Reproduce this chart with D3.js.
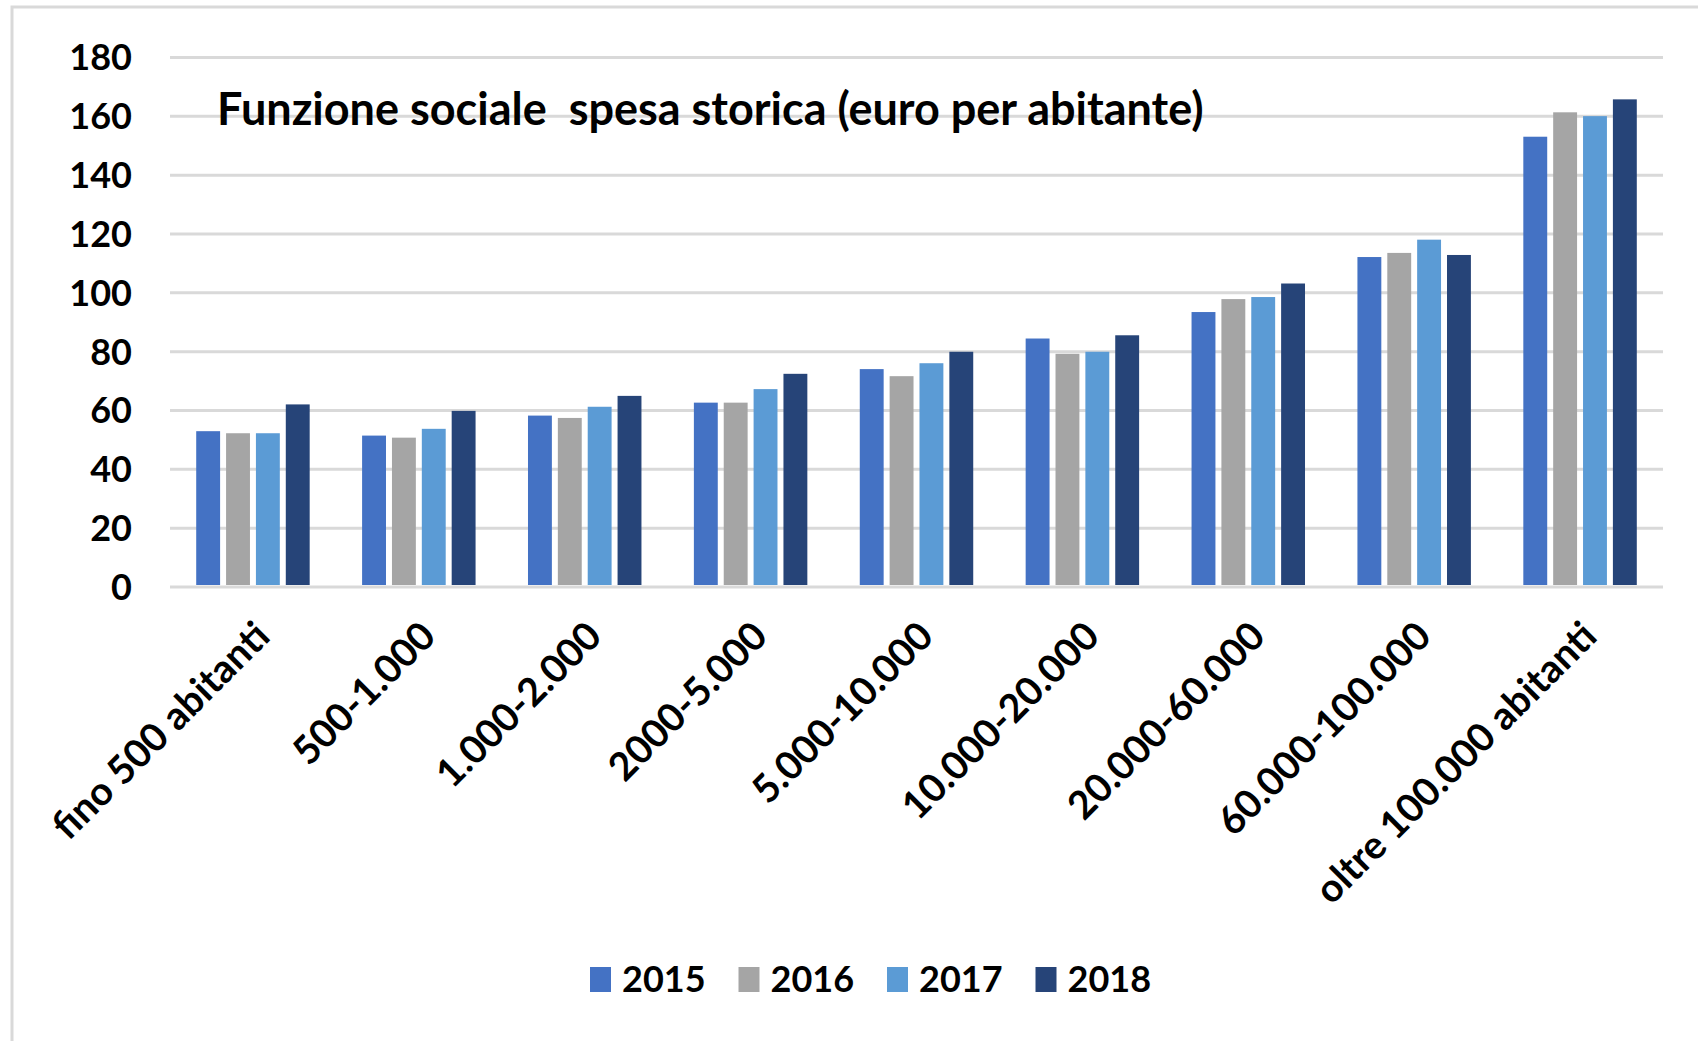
<!DOCTYPE html>
<html>
<head>
<meta charset="utf-8">
<script src="https://cdn.jsdelivr.net/npm/d3@7"></script>
<style>
  html, body { margin: 0; padding: 0; background: #fff; }
  svg text { font-family: Lato, "Open Sans", sans-serif; font-weight: bold; fill: #000; }
</style>
</head>
<body>
<div id="chart"></div>
<script>
// fasce di popolazione
const categories = ["fino 500 abitanti", "500-1.000", "1.000-2.000", "2000-5.000", "5.000-10.000",
  "10.000-20.000", "20.000-60.000", "60.000-100.000", "oltre 100.000 abitanti"];
const years = ["2015", "2016", "2017", "2018"];
const values2015 = [52.8, 51.3, 58.1, 62.5, 73.9, 84.3, 93.3, 112.0, 152.9];
const values2016 = [52.1, 50.6, 57.3, 62.5, 71.5, 79.1, 97.7, 113.4, 161.2];
const values2017 = [52.1, 53.6, 61.1, 67.1, 75.9, 79.8, 98.4, 117.9, 159.9];
const values2018 = [61.9, 59.7, 64.8, 72.3, 79.8, 85.4, 103.0, 112.7, 165.6];
const yTicks = [0, 20, 40, 60, 80, 100, 120, 140, 160, 180];
const colors = ["#4472C4", "#A5A5A5", "#5B9BD5", "#264478"];
const title = "Funzione sociale  spesa storica (euro per abitante)";

const series = [values2015, values2016, values2017, values2018];
const data = categories.map((c, i) => ({ cat: c, vals: years.map((y, j) => ({ year: y, v: series[j][i] })) }));

const width = 1698, height = 1041;
const plotLeft = 170, plotRight = 1663, plotTop = 57, plotBottom = 586.5;

const svg = d3.select("#chart").append("svg")
  .attr("width", width)
  .attr("height", height);

svg.append("rect")
  .attr("x", 12).attr("y", 7)
  .attr("width", 1720).attr("height", 1100)
  .attr("fill", "#fff")
  .attr("stroke", "#d9d9d9")
  .attr("stroke-width", 3);

const y = d3.scaleLinear().domain([0, 180]).range([plotBottom, plotTop]);
const x0 = d3.scaleBand().domain(categories).range([plotLeft, plotRight])
  .paddingInner(0.28).paddingOuter(0.14);
const x1 = d3.scaleBand().domain(years).range([0, x0.bandwidth()])
  .paddingInner(0.2).paddingOuter(0.1);
const color = d3.scaleOrdinal().domain(years).range(colors);

// griglia + etichette asse y
const yAxis = svg.append("g")
  .attr("transform", `translate(${plotLeft},0)`)
  .call(d3.axisLeft(y).tickValues(yTicks).tickSize(-(plotRight - plotLeft)).tickPadding(38));
yAxis.select(".domain").remove();
yAxis.selectAll(".tick line").attr("stroke", "#d9d9d9").attr("stroke-width", 3);
yAxis.selectAll(".tick text")
  .attr("font-size", "36px")
  .attr("dy", "0.36em");

// barre
const groups = svg.selectAll(".grp")
  .data(data)
  .enter().append("g")
  .attr("class", "grp")
  .attr("transform", d => `translate(${x0(d.cat)},0)`);

groups.selectAll("rect")
  .data(d => d.vals)
  .enter().append("rect")
  .attr("x", d => x1(d.year))
  .attr("y", d => y(d.v))
  .attr("width", x1.bandwidth())
  .attr("height", d => y(0) - y(d.v) - 1.5)
  .attr("fill", d => color(d.year));

// asse x con etichette ruotate
const xAxis = svg.append("g")
  .attr("transform", `translate(0,${plotBottom})`)
  .call(d3.axisBottom(x0).tickSize(0).tickPadding(0));
xAxis.select(".domain").remove();
xAxis.selectAll(".tick text")
  .attr("font-size", "39px")
  .attr("text-anchor", "end")
  .attr("dy", null)
  .attr("y", null)
  .attr("transform", "translate(19,52) rotate(-45)");

// titolo
svg.append("text")
  .attr("x", 217)
  .attr("y", 125)
  .attr("font-size", "45px")
  .style("white-space", "pre")
  .text(title);

// legenda
const legend = svg.append("g").attr("transform", "translate(590,0)");
const item = legend.selectAll(".leg")
  .data(years)
  .enter().append("g")
  .attr("class", "leg")
  .attr("transform", (d, i) => `translate(${i * 148.5},0)`);
item.append("rect")
  .attr("x", 0).attr("y", 967)
  .attr("width", 21).attr("height", 25)
  .attr("fill", d => color(d));
item.append("text")
  .attr("x", 32).attr("y", 992)
  .attr("font-size", "36px")
  .text(d => d);
</script>
</body>
</html>
